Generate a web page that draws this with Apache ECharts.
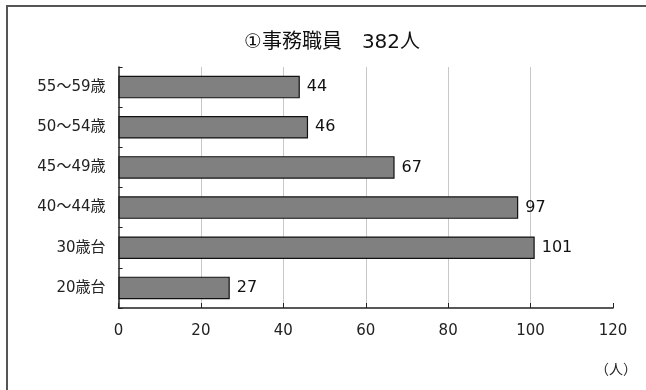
<!DOCTYPE html>
<html>
<head>
<meta charset="utf-8">
<script src="https://cdn.jsdelivr.net/npm/echarts@6/dist/echarts.min.js"></script>
<style>
  html, body { margin: 0; padding: 0; background: #fff; }
  #chart { width: 646px; height: 390px; }
</style>
</head>
<body>
<div id="chart"></div>
<script>
// Staff counts by age group (bottom to top)
const ageGroups = ['20歳台', '30歳台', '40～44歳', '45～49歳', '50～54歳', '55～59歳'];
const staffCounts = [27, 101, 97, 67, 46, 44];
const titleText = '①事務職員　382人';
const unitText = '（人）';

const FONT = '"DejaVu Sans", "Noto Sans CJK JP", sans-serif';

const chart = echarts.init(document.getElementById('chart'));
chart.setOption({
  backgroundColor: '#ffffff',
  animation: false,
  title: {
    text: titleText,
    left: 327,
    textAlign: 'center',
    top: 28,
    textStyle: { fontFamily: FONT, fontSize: 20, fontWeight: 'normal', color: '#111' }
  },
  grid: { left: 118.5, right: 33, top: 67, bottom: 82, containLabel: false },
  xAxis: {
    type: 'value',
    min: 0,
    max: 120,
    interval: 20,
    axisLine: { show: true, lineStyle: { color: '#222', width: 1.5 } },
    axisTick: { show: true, inside: true, length: 5, lineStyle: { color: '#222', width: 1 } },
    axisLabel: { margin: 16, fontFamily: FONT, fontSize: 15, color: '#222' },
    splitLine: { show: true, showMinLine: false, showMaxLine: false, lineStyle: { color: '#c8c8c8', width: 1 } }
  },
  yAxis: {
    type: 'category',
    data: ageGroups,
    axisLine: { show: true, lineStyle: { color: '#222', width: 1.5 } },
    axisTick: { show: true, inside: true, length: 4, lineStyle: { color: '#222', width: 1 } },
    axisLabel: { margin: 13, fontFamily: FONT, fontSize: 15, color: '#222' },
    splitLine: { show: false }
  },
  series: [{
    type: 'bar',
    data: staffCounts,
    barCategoryGap: '44%',
    itemStyle: { color: '#808080', borderColor: '#111', borderWidth: 1.2 },
    label: {
      show: true,
      position: 'right',
      distance: 7,
      fontFamily: FONT,
      fontSize: 16,
      color: '#111'
    }
  }],
  graphic: [
    // frame lines along the top and left edges
    { type: 'line', shape: { x1: 6, y1: 6, x2: 646, y2: 6 }, style: { stroke: '#555', lineWidth: 2 } },
    { type: 'line', shape: { x1: 7, y1: 5, x2: 7, y2: 390 }, style: { stroke: '#555', lineWidth: 2 } },
    {
      type: 'text',
      left: 595,
      top: 363,
      style: { text: unitText, fontFamily: FONT, fontSize: 14, fill: '#222' }
    }
  ]
});
</script>
</body>
</html>
